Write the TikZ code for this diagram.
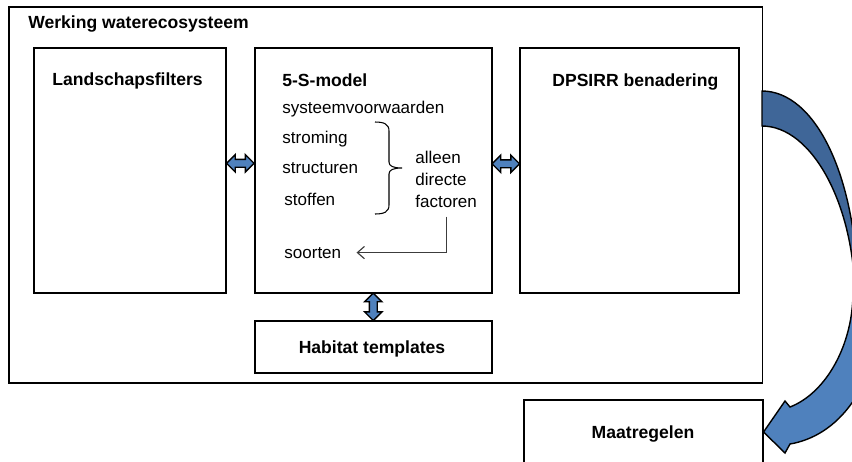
\documentclass[tikz,border=0pt]{standalone}
\usepackage{fontspec}
\setmainfont{Liberation Sans}
\usetikzlibrary{calc,positioning,shapes.arrows,arrows.meta}

\definecolor{pijlblauw}{RGB}{79,129,189}
\definecolor{pijldonker}{RGB}{63,102,152}
\definecolor{lijngrijs}{RGB}{60,60,60}

\tikzset{
  vak/.style={draw, line width=0.9pt, inner sep=0pt, anchor=north west},
  kop/.style={font=\bfseries, inner sep=0pt, anchor=base west},
  tekst/.style={inner sep=0pt, anchor=base west},
  dubbel/.style={double arrow, draw, line width=0.8pt, fill=pijlblauw, inner xsep=0pt, inner ysep=0.065cm,
    minimum height=0.55cm, double arrow head extend=0.095cm},
}

\begin{document}
\begin{tikzpicture}[x=0.02cm, y=-0.02cm, font=\fontsize{9.7}{11.6}\selectfont]
            % vaste afmetingen
            \useasboundingbox (0,0) rectangle (852,461);

            % kaders
            \node[vak, minimum width=15.08cm, minimum height=7.52cm] (werking) at (8,6) {};
            \node[vak, minimum width=3.84cm, minimum height=4.9cm] (landschap) at (33,47) {};
            \node[vak, minimum width=4.74cm, minimum height=4.9cm] (model) at (254,47) {};
            \node[vak, minimum width=4.38cm, minimum height=4.9cm] (dpsirr) at (519,47) {};
            \node[vak, minimum width=4.74cm, minimum height=1.04cm] (habitatvak) at (254,320) {};
            \node[vak, minimum width=4.78cm, minimum height=1.8cm] (maatregelvak) at (523,399) {};

            % koppen
            \node[kop] (kopwerking) at (28,28) {Werking waterecosysteem};
            \node[kop] (koplandschap) at (52,85) {Landschapsfilters};
            \node[kop] (kopmodel) at (282,86) {5-S-model};
            \node[kop] (kopdpsirr) at (552,86) {DPSIRR benadering};
            \node[font=\bfseries, inner sep=0pt, anchor=base] (habitat) at (372,353) {Habitat templates};
            \node[font=\bfseries, inner sep=0pt, anchor=base] (maatregelen) at (643,438) {Maatregelen};

            % de vijf S-en
            \node[tekst] (voorwaarden) at (282,113) {systeemvoorwaarden};
            \node[tekst] (stroming) at (282,143) {stroming};
            \node[tekst] (structuren) at (282,173) {structuren};
            \node[tekst] (stoffen) at (284,205) {stoffen};
            \node[tekst] (soorten) at (284,258) {soorten};

            \node[tekst] (alleen) at (415,163) {alleen};
            \node[tekst] (directe) at (415,185) {directe};
            \node[tekst] (factoren) at (415,207) {factoren};

            % accolade
            \draw[line width=0.6pt] (375,122) .. controls (384,122) and (389,124) .. (389,131)
                -- (389,162) .. controls (389,166) and (393,168) .. (402,168)
                .. controls (393,168) and (389,170) .. (389,174)
                -- (389,205) .. controls (389,212) and (384,214) .. (375,214);

            % factoren naar soorten
            \draw[lijngrijs, line width=0.65pt, -{Straight Barb[length=4pt, width=7pt]},
                shorten <=0.18cm, shorten >=0.3cm] (factoren.south) |- (soorten.east);

            % dubbele pijlen
            \node[dubbel, yshift=0.14cm] (pijllinks) at ($(landschap.east)!0.5!(model.west)$) {};
            \node[dubbel, yshift=0.13cm] (pijlrechts) at ($(model.east)!0.5!(dpsirr.west)$) {};
            \node[dubbel, rotate=90] (pijlonder) at ($(model.south)!0.5!(habitatvak.north)$) {};

            % gebogen pijl naar maatregelen
            \draw[line width=0.8pt, fill=pijldonker] (762,91) .. controls (815,91) and (858,176) .. (858,300)
                -- (855,300) .. controls (855,205) and (812,126) .. (762,126) -- cycle;
            \draw[line width=0.8pt, fill=pijlblauw] (853,292) .. controls (853,345) and (826,393) .. (790,407)
                -- (785,401) -- (maatregelvak.east |- 0,432) -- (785,453) -- (790,444)
                .. controls (836,436) and (878,392) .. (886,292) -- cycle;

        \end{tikzpicture}
\end{document}
